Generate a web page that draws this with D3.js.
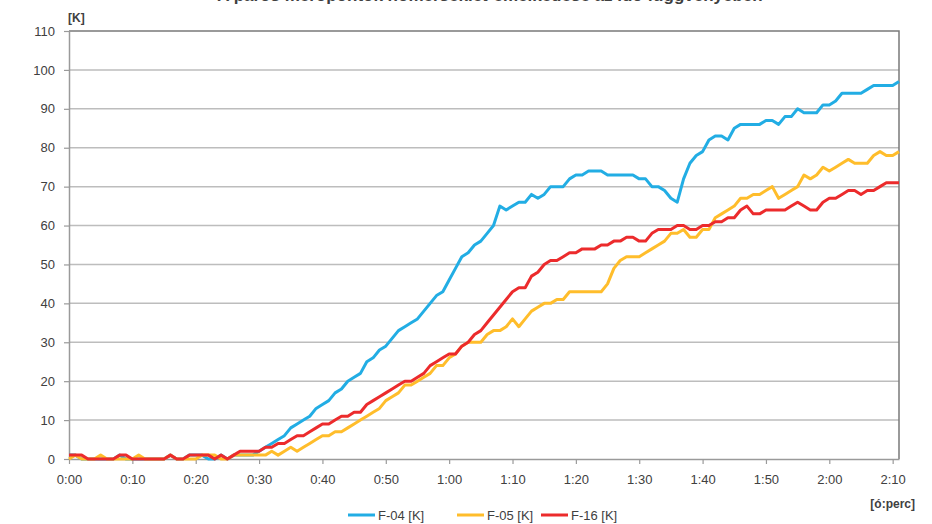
<!DOCTYPE html>
<html>
<head>
<meta charset="utf-8">
<script src="https://cdn.jsdelivr.net/npm/d3@7"></script>
<style>
  body { margin: 0; background: #fff; }
  svg { font-family: "Liberation Sans", Arial, sans-serif; }
</style>
</head>
<body>
<div id="container"></div>
<script>
/* CONSTANTS AND GLOBALS */
const width = 932,
  height = 524,
  margin = { top: 31, right: 33, bottom: 65, left: 69 };

/* DATA (one value per minute, 0:00 - 2:11) */
const seriesNames = ['F-04 [K]', 'F-05 [K]', 'F-16 [K]'];
const seriesColors = ['#22ADE4', '#FFBD2B', '#EC2B2C'];

const f04 = [
  1, 1, 0, 0, 0, 0, 0, 0, 1, 0,
  0, 0, 0, 0, 0, 0, 1, 0, 0, 1,
  1, 1, 0, 0, 1, 0, 1, 1, 1, 1,
  2, 3, 4, 5, 6, 8, 9, 10, 11, 13,
  14, 15, 17, 18, 20, 21, 22, 25, 26, 28,
  29, 31, 33, 34, 35, 36, 38, 40, 42, 43,
  46, 49, 52, 53, 55, 56, 58, 60, 65, 64,
  65, 66, 66, 68, 67, 68, 70, 70, 70, 72,
  73, 73, 74, 74, 74, 73, 73, 73, 73, 73,
  72, 72, 70, 70, 69, 67, 66, 72, 76, 78,
  79, 82, 83, 83, 82, 85, 86, 86, 86, 86,
  87, 87, 86, 88, 88, 90, 89, 89, 89, 91,
  91, 92, 94, 94, 94, 94, 95, 96, 96, 96,
  96, 97
];

const f05 = [
  0, 1, 0, 0, 0, 1, 0, 0, 0, 0,
  0, 1, 0, 0, 0, 0, 1, 0, 0, 0,
  0, 1, 1, 1, 0, 0, 1, 1, 1, 1,
  1, 1, 2, 1, 2, 3, 2, 3, 4, 5,
  6, 6, 7, 7, 8, 9, 10, 11, 12, 13,
  15, 16, 17, 19, 19, 20, 21, 22, 24, 24,
  26, 27, 29, 30, 30, 30, 32, 33, 33, 34,
  36, 34, 36, 38, 39, 40, 40, 41, 41, 43,
  43, 43, 43, 43, 43, 45, 49, 51, 52, 52,
  52, 53, 54, 55, 56, 58, 58, 59, 57, 57,
  59, 59, 62, 63, 64, 65, 67, 67, 68, 68,
  69, 70, 67, 68, 69, 70, 73, 72, 73, 75,
  74, 75, 76, 77, 76, 76, 76, 78, 79, 78,
  78, 79
];

const f16 = [
  1, 1, 1, 0, 0, 0, 0, 0, 1, 1,
  0, 0, 0, 0, 0, 0, 1, 0, 0, 1,
  1, 1, 1, 0, 1, 0, 1, 2, 2, 2,
  2, 3, 3, 4, 4, 5, 6, 6, 7, 8,
  9, 9, 10, 11, 11, 12, 12, 14, 15, 16,
  17, 18, 19, 20, 20, 21, 22, 24, 25, 26,
  27, 27, 29, 30, 32, 33, 35, 37, 39, 41,
  43, 44, 44, 47, 48, 50, 51, 51, 52, 53,
  53, 54, 54, 54, 55, 55, 56, 56, 57, 57,
  56, 56, 58, 59, 59, 59, 60, 60, 59, 59,
  60, 60, 61, 61, 62, 62, 64, 65, 63, 63,
  64, 64, 64, 64, 65, 66, 65, 64, 64, 66,
  67, 67, 68, 69, 69, 68, 69, 69, 70, 71,
  71, 71
];

const xTicks = d3.range(0, 131, 10);
const yTicks = d3.range(0, 111, 10);

const series = [f04, f05, f16].map((values, i) => ({
  name: seriesNames[i],
  color: seriesColors[i],
  values: values.map((v, m) => ({ minute: m, value: v }))
}));

// SCALES
const xScale = d3.scaleLinear()
  .domain([0, f04.length - 1])
  .range([margin.left, width - margin.right]);

const yScale = d3.scaleLinear()
  .domain([0, 110])
  .range([height - margin.bottom, margin.top]);

// CREATE SVG ELEMENT
const svg = d3.select('#container')
  .append('svg')
  .attr('width', width)
  .attr('height', height);

// title (cut off at the top of the picture, as in the source)
svg.append('text')
  .attr('x', 490)
  .attr('y', 1)
  .attr('text-anchor', 'middle')
  .attr('font-size', 17)
  .attr('font-weight', 'bold')
  .attr('fill', '#404040')
  .text('A páros mérőpontok hőmérséklet-emelkedése az idő függvényében');

// GRIDLINES
svg.append('g')
  .selectAll('line')
  .data(yTicks.filter(d => d > 0 && d < 110))
  .join('line')
  .attr('x1', margin.left)
  .attr('x2', width - margin.right)
  .attr('y1', d => yScale(d))
  .attr('y2', d => yScale(d))
  .attr('stroke', '#BDBDBD')
  .attr('stroke-width', 1.5);

// plot frame (top and right)
svg.append('path')
  .attr('d', `M${margin.left},${yScale(110)}H${width - margin.right}V${yScale(0)}`)
  .attr('fill', 'none')
  .attr('stroke', '#7a7a7a')
  .attr('stroke-width', 1.5);

// AXES
const yAxis = d3.axisLeft(yScale)
  .tickValues(yTicks)
  .tickSize(5)
  .tickPadding(9)
  .tickSizeOuter(0);

const yAxisG = svg.append('g')
  .attr('transform', `translate(${margin.left}, 0)`)
  .call(yAxis);

const xAxis = d3.axisBottom(xScale)
  .tickValues(xTicks)
  .tickSize(5)
  .tickPadding(11)
  .tickSizeOuter(0)
  .tickFormat(d => `${Math.floor(d / 60)}:${String(d % 60).padStart(2, '0')}`);

const xAxisG = svg.append('g')
  .attr('transform', `translate(0, ${yScale(0)})`)
  .call(xAxis);

[yAxisG, xAxisG].forEach(g => {
  g.select('.domain').attr('stroke', '#9a9a9a').attr('stroke-width', 1.5);
  g.selectAll('.tick line').attr('stroke', '#9a9a9a').attr('stroke-width', 1.2);
  g.selectAll('.tick text')
    .attr('font-size', 13)
    .attr('fill', '#404040')
    .attr('font-family', '"Liberation Sans", Arial, sans-serif');
});

// axis units
svg.append('text')
  .attr('x', 68)
  .attr('y', 22)
  .attr('font-size', 12)
  .attr('font-weight', 'bold')
  .attr('fill', '#404040')
  .text('[K]');

svg.append('text')
  .attr('x', 915)
  .attr('y', 508)
  .attr('text-anchor', 'end')
  .attr('font-size', 12)
  .attr('font-weight', 'bold')
  .attr('fill', '#404040')
  .text('[ó:perc]');

// LINE GENERATOR FUNCTION
const lineGen = d3.line()
  .x(d => xScale(d.minute))
  .y(d => yScale(d.value));

// DRAW LINES
svg.append('g')
  .selectAll('path')
  .data(series)
  .join('path')
  .attr('d', d => lineGen(d.values))
  .attr('fill', 'none')
  .attr('stroke', d => d.color)
  .attr('stroke-width', 3)
  .attr('stroke-linejoin', 'round');

// LEGEND
const legendX = [348, 457, 541];
const legend = svg.append('g')
  .selectAll('g')
  .data(series)
  .join('g')
  .attr('transform', (d, i) => `translate(${legendX[i]}, 515)`);

legend.append('line')
  .attr('x1', 0)
  .attr('x2', 27)
  .attr('stroke', d => d.color)
  .attr('stroke-width', 3);

legend.append('text')
  .attr('x', 30)
  .attr('dy', '0.35em')
  .attr('font-size', 13)
  .attr('fill', '#404040')
  .text(d => d.name);
</script>
</body>
</html>
